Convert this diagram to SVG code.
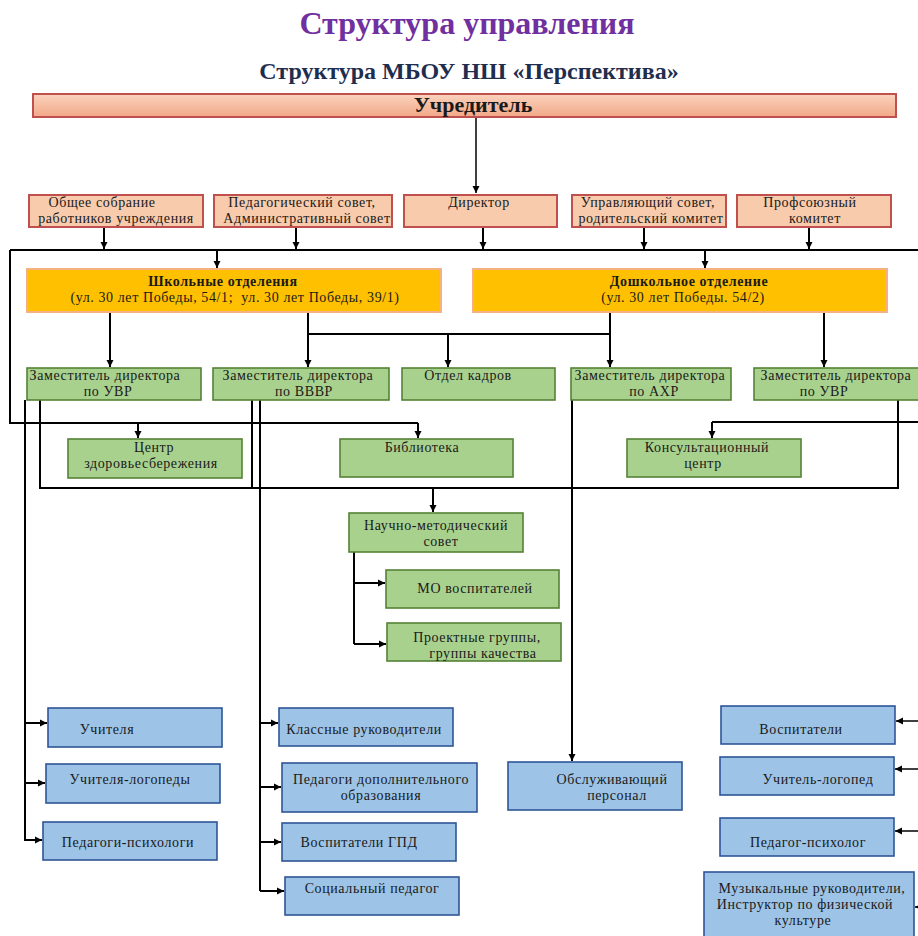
<svg xmlns="http://www.w3.org/2000/svg" width="918" height="936" viewBox="0 0 918 936">
<defs>
<linearGradient id="gU" x1="0" y1="0" x2="0" y2="1">
<stop offset="0" stop-color="#FAD3BE"/>
<stop offset="1" stop-color="#F2A887"/>
</linearGradient>
<marker id="ah" markerUnits="userSpaceOnUse" markerWidth="8" markerHeight="8" refX="7" refY="4" orient="auto">
<path d="M0,0.5 L7,4 L0,7.5 z" fill="#000"/>
</marker>
<style>
text{font-family:"Liberation Serif","Times New Roman",serif;fill:#1a1a1a;font-size:14px;letter-spacing:0.6px;text-anchor:middle}
.t1{font-size:32px;font-weight:bold;fill:#7030A0;letter-spacing:0}
.t2{font-size:24px;font-weight:bold;fill:#1F2D4F;letter-spacing:0}
.b{font-weight:bold}
.sal{fill:#F8CBAD;stroke:#C0504D;stroke-width:2}
.org{fill:#FFC000;stroke:#F4B183;stroke-width:2}
.grn{fill:#A9D18E;stroke:#548235;stroke-width:1.6}
.blu{fill:#9DC3E6;stroke:#2F5597;stroke-width:1.6}
.c{fill:none;stroke:#000;stroke-width:2}
.a{fill:none;stroke:#000;stroke-width:2;marker-end:url(#ah)}
</style>
</defs>
<rect width="918" height="936" fill="#fff"/>
<text class="t1" x="467" y="34">Структура управления</text>
<text class="t2" x="469" y="79">Структура МБОУ НШ «Перспектива»</text>

<g id="connectors">
<path class="a" d="M476,117 V193" style="stroke-width:1.5"/>
<path class="a" d="M104,227 V249"/>
<path class="a" d="M296,227 V249"/>
<path class="a" d="M483,227 V249"/>
<path class="a" d="M644,227 V249"/>
<path class="a" d="M809,227 V249"/>
<path class="c" d="M10,250 H918"/>
<path class="c" d="M10,250 V423 H418"/>
<path class="a" d="M138,423 V438"/>
<path class="a" d="M418,423 V438"/>
<path class="a" d="M217,250 V268"/>
<path class="a" d="M705,250 V268"/>
<path class="c" d="M918,422 H712"/>
<path class="a" d="M712,422 V438"/>
<path class="a" d="M110,312 V367"/>
<path class="a" d="M308,312 V367"/>
<path class="c" d="M308,334 H610"/>
<path class="a" d="M448,334 V367"/>
<path class="a" d="M610,312 V367"/>
<path class="a" d="M824,312 V367"/>
<path class="c" d="M40,400 V488 H898 V400"/>
<path class="c" d="M252,400 V488"/>
<path class="a" d="M433,488 V512"/>
<path class="c" d="M25,400 V840"/>
<path class="a" d="M25,723 H47"/>
<path class="a" d="M25,783 H45"/>
<path class="a" d="M24,840 H42"/>
<path class="c" d="M260,400 V891"/>
<path class="a" d="M260,723 H278"/>
<path class="a" d="M260,787 H281"/>
<path class="a" d="M260,842 H281"/>
<path class="a" d="M260,891 H284"/>
<path class="a" d="M572,400 V761"/>
<path class="c" d="M354,552 V644"/>
<path class="a" d="M354,583 H385"/>
<path class="a" d="M354,644 H386"/>
<path class="a" d="M918,721 H896" style="stroke-width:1.5"/>
<path class="a" d="M918,769 H895" style="stroke-width:1.5"/>
<path class="a" d="M918,831 H895" style="stroke-width:1.5"/>
<path class="a" d="M922,907 H915" style="stroke-width:1.5"/>
</g>

<g id="uchreditel"><rect x="33" y="94" width="863" height="23" fill="url(#gU)" stroke="#C0504D" stroke-width="2"/><text class="b" x="473" y="112" style="font-size:22px;letter-spacing:0">Учредитель</text></g>

<g id="obshchee"><rect class="sal" x="29" y="195" width="174" height="32"/><text x="102" y="207">Общее собрание</text><text x="116" y="223">работников учреждения</text></g>
<g id="pedsovet"><rect class="sal" x="214" y="195" width="178" height="32"/><text x="302" y="207">Педагогический совет,</text><text x="307" y="223">Административный совет</text></g>
<g id="direktor"><rect class="sal" x="404" y="195" width="153" height="32"/><text x="479" y="207">Директор</text></g>
<g id="upravsovet"><rect class="sal" x="572" y="195" width="154" height="32"/><text x="648" y="207">Управляющий совет,</text><text x="651" y="223">родительский комитет</text></g>
<g id="profkom"><rect class="sal" x="737" y="195" width="154" height="32"/><text x="810" y="207">Профсоюзный</text><text x="815" y="223">комитет</text></g>

<g id="shkolnye"><rect class="org" x="27" y="269" width="414" height="43"/><text class="b" x="223" y="286">Школьные отделения</text><text x="235" y="302">(ул. 30 лет Победы, 54/1;&#160; ул. 30 лет Победы, 39/1)</text></g>
<g id="doshkolnoe"><rect class="org" x="473" y="269" width="414" height="43"/><text class="b" x="689" y="286">Дошкольное отделение</text><text x="683" y="302">(ул. 30 лет Победы. 54/2)</text></g>

<g id="zam-uvr"><rect class="grn" x="27" y="368" width="174" height="32"/><text x="105" y="380">Заместитель директора</text><text x="108" y="396">по УВР</text></g>
<g id="zam-vvvr"><rect class="grn" x="213" y="368" width="176" height="32"/><text x="298" y="380">Заместитель директора</text><text x="304" y="396">по ВВВР</text></g>
<g id="otdel-kadrov"><rect class="grn" x="402" y="368" width="153" height="32"/><text x="468" y="380">Отдел кадров</text></g>
<g id="zam-ahr"><rect class="grn" x="571" y="368" width="160" height="32"/><text x="650" y="380">Заместитель директора</text><text x="654" y="396">по АХР</text></g>
<g id="zam-uvr2"><rect class="grn" x="754" y="368" width="166" height="32"/><text x="836" y="380">Заместитель директора</text><text x="824" y="396">по УВР</text></g>

<g id="centr-zdorov"><rect class="grn" x="68" y="439" width="174" height="39"/><text x="154" y="452">Центр</text><text x="151" y="468">здоровьесбережения</text></g>
<g id="biblioteka"><rect class="grn" x="340" y="439" width="173" height="38"/><text x="422" y="452">Библиотека</text></g>
<g id="konsult"><rect class="grn" x="627" y="439" width="174" height="38"/><text x="707" y="452">Консультационный</text><text x="703" y="468">центр</text></g>

<g id="nms"><rect class="grn" x="349" y="513" width="174" height="39"/><text x="436" y="530">Научно-методический</text><text x="441" y="546">совет</text></g>
<g id="mo"><rect class="grn" x="386" y="570" width="173" height="38"/><text x="475" y="593">МО воспитателей</text></g>
<g id="proekt"><rect class="grn" x="387" y="623" width="174" height="38"/><text x="477" y="642">Проектные группы,</text><text x="483" y="658">группы качества</text></g>

<g id="uchitelya"><rect class="blu" x="48" y="708" width="174" height="39"/><text x="107" y="734">Учителя</text></g>
<g id="logopedy"><rect class="blu" x="46" y="764" width="174" height="39"/><text x="130" y="784">Учителя-логопеды</text></g>
<g id="psihologi"><rect class="blu" x="43" y="822" width="174" height="38"/><text x="128" y="847">Педагоги-психологи</text></g>

<g id="klassnye"><rect class="blu" x="279" y="708" width="174" height="38"/><text x="364" y="734">Классные руководители</text></g>
<g id="dopobr"><rect class="blu" x="282" y="763" width="195" height="49"/><text x="381" y="784">Педагоги дополнительного</text><text x="381" y="800">образования</text></g>
<g id="gpd"><rect class="blu" x="282" y="823" width="174" height="38"/><text x="359" y="847">Воспитатели ГПД</text></g>
<g id="socped"><rect class="blu" x="285" y="877" width="174" height="38"/><text x="372" y="893">Социальный педагог</text></g>

<g id="obsluzh"><rect class="blu" x="508" y="762" width="174" height="48"/><text x="612" y="784">Обслуживающий</text><text x="617" y="800">персонал</text></g>

<g id="vospitateli"><rect class="blu" x="721" y="706" width="174" height="38"/><text x="801" y="734">Воспитатели</text></g>
<g id="logoped"><rect class="blu" x="720" y="757" width="174" height="38"/><text x="818" y="784">Учитель-логопед</text></g>
<g id="psiholog"><rect class="blu" x="720" y="818" width="174" height="38"/><text x="808" y="847">Педагог-психолог</text></g>
<g id="muzyk"><rect class="blu" x="704" y="872" width="210" height="70"/><text x="812" y="893">Музыкальные руководители,</text><text x="805" y="909">Инструктор по физической</text><text x="803" y="925">культуре</text></g>
</svg>
